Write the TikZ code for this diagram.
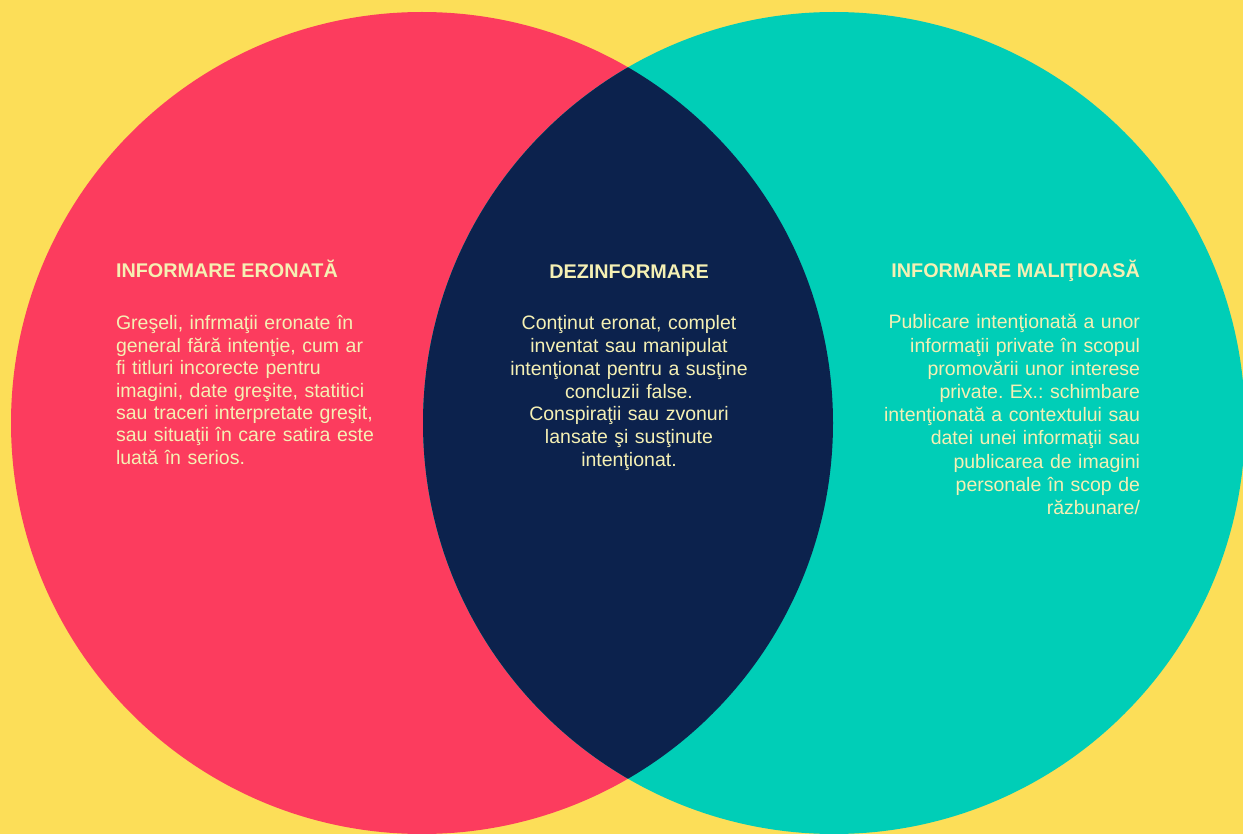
\documentclass[tikz,border=0pt]{standalone}
\usepackage{fontspec}
\setmainfont{Liberation Sans}
\frenchspacing
\definecolor{bgyellow}{HTML}{FCDE58}
\definecolor{misred}{HTML}{FC3C5E}
\definecolor{malteal}{HTML}{00CEB7}
\definecolor{disnavy}{HTML}{0C224D}
\definecolor{txtcream}{HTML}{F5F0B4}
\tikzset{
  lbl/.style={text=txtcream, inner sep=0pt, outer sep=0pt},
  ttl/.style={lbl, font=\fontsize{19.8}{22.4}\selectfont\bfseries},
  bodytxt/.style={lbl, text width=330pt, font=\fontsize{19.5}{#1}\selectfont\frenchspacing},
  bodytxt/.default={22.4}
}
\begin{document}
\begin{tikzpicture}[x=1pt, y=-1pt]
  \useasboundingbox (0,0) rectangle (1243,834);
  \clip (0,0) rectangle (1243,834);
  \fill[bgyellow] (0,0) rectangle (1243,834);
  % the two sets
  \fill[misred] (422,423) circle[radius=411];
  \fill[malteal] (834,423) circle[radius=411];
  % their overlap
  \begin{scope}
    \clip (422,423) circle[radius=411];
    \fill[disnavy] (834,423) circle[radius=411];
  \end{scope}

  % left set
  \node[ttl, anchor=base west] (tleft) at (116,278) {INFORMARE ERONATĂ};
  \node[bodytxt, align=left, anchor=base west] (bleft) at (116,330)
    {Greşeli, infrmaţii eronate în\\
     general fără intenţie, cum ar\\
     fi titluri incorecte pentru\\
     imagini, date greşite, statitici\\
     sau traceri interpretate greşit,\\
     sau situaţii în care satira este\\
     luată în serios.};

  % overlap
  \node[ttl, anchor=base] (tmid) at (629,279) {DEZINFORMARE};
  \node[bodytxt=22.7, align=center, anchor=base] (bmid) at (629,330)
    {Conţinut eronat, complet\\
     inventat sau manipulat\\
     intenţionat pentru a susţine\\
     concluzii false.\\
     Conspiraţii sau zvonuri\\
     lansate şi susţinute\\
     intenţionat.};

  % right set
  \node[ttl, anchor=base east] (tright) at (1140,278) {INFORMARE MALIŢIOASĂ};
  \node[bodytxt=23.2, align=right, anchor=base east] (bright) at (1140,329)
    {Publicare intenţionată a unor\\
     informaţii private în scopul\\
     promovării unor interese\\
     private. Ex.: schimbare\\
     intenţionată a contextului sau\\
     datei unei informaţii sau\\
     publicarea de imagini\\
     personale în scop de\\
     răzbunare/};
\end{tikzpicture}
\end{document}
